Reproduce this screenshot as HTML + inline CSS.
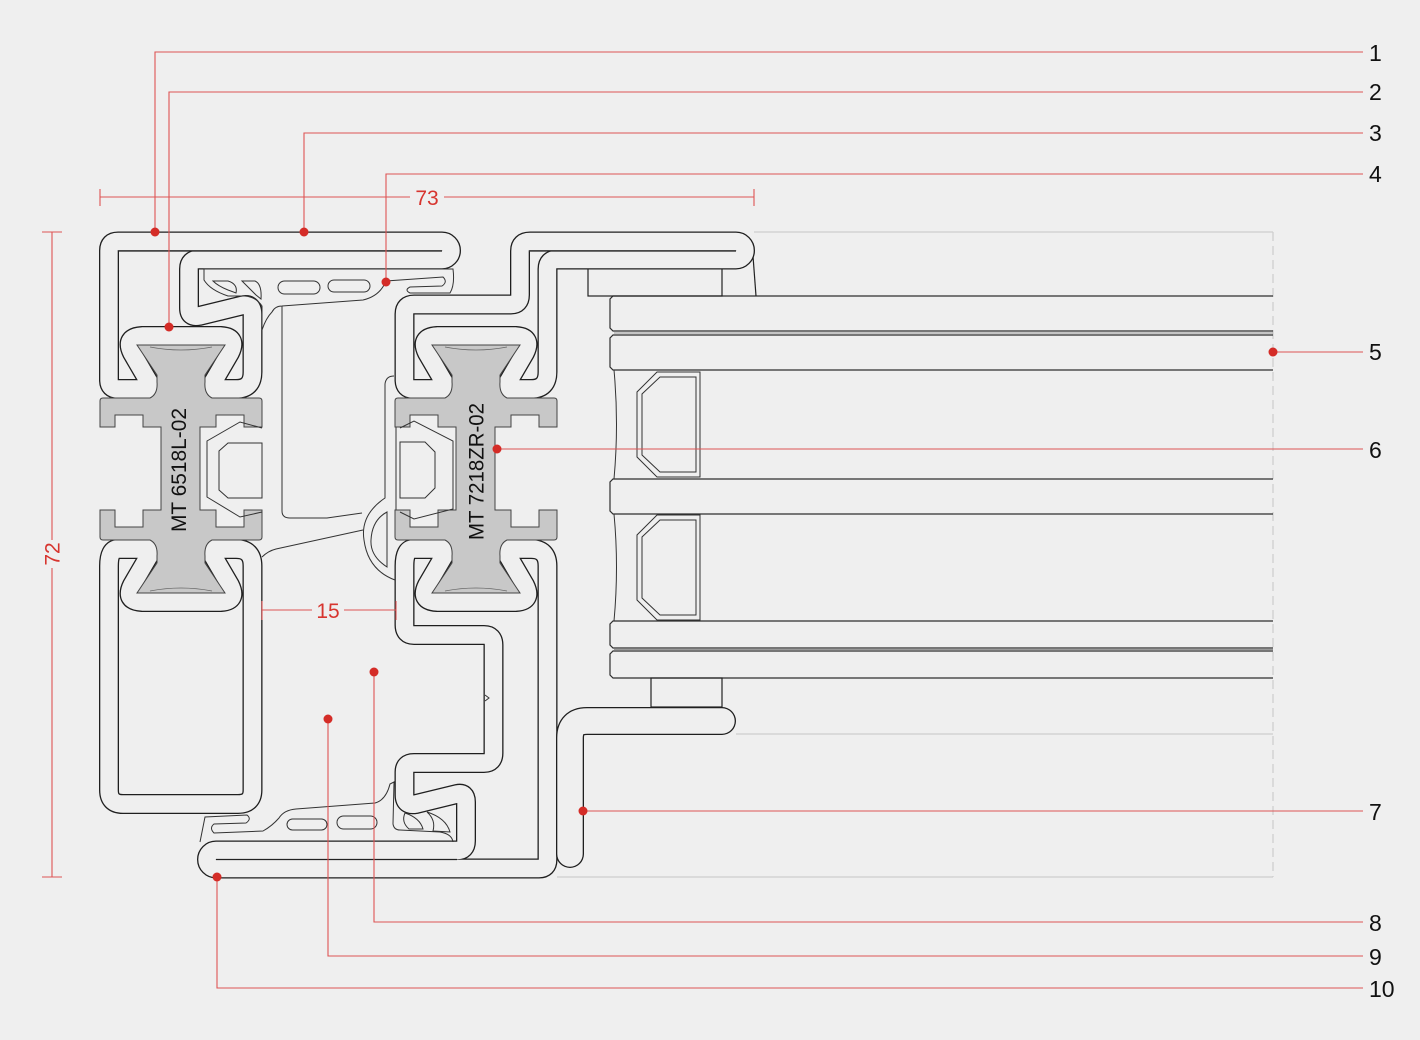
<!DOCTYPE html>
<html>
<head>
<meta charset="utf-8">
<style>
html,body{margin:0;padding:0;background:#efefef;}
svg{display:block;}
.tb{fill:none;stroke:#1f1f1f;stroke-width:20;stroke-linejoin:round;stroke-linecap:round;}
.tf{fill:none;stroke:#efefef;stroke-width:17.4;stroke-linejoin:round;stroke-linecap:round;}
.tb7{fill:none;stroke:#1f1f1f;stroke-width:28;stroke-linejoin:round;stroke-linecap:round;}
.tf7{fill:none;stroke:#efefef;stroke-width:25.4;stroke-linejoin:round;stroke-linecap:round;}
.ln{fill:none;stroke:#222;stroke-width:1.2;}
.th{fill:none;stroke:#333;stroke-width:1;}
.ld{fill:none;stroke:#de5454;stroke-width:1.1;}
.dot{fill:#d42c27;}
.lab{font-family:"Liberation Sans",Arial,sans-serif;font-size:23px;fill:#111;}
.dim{font-family:"Liberation Sans",Arial,sans-serif;font-size:21px;fill:#d7352f;}
.gt{font-family:"Liberation Sans",Arial,sans-serif;font-size:21px;fill:#111;}
</style>
</head>
<body>
<svg width="1420" height="1040" viewBox="0 0 1420 1040" xmlns="http://www.w3.org/2000/svg">
<defs>
<path id="LU" d="M 252.5,372 L 252.5,314 Q 252.5,303 242,305.5 L 199,316 Q 189,318 189,308 L 189,269 Q 189,259.5 198.5,259.5 L 442,259.5 A 9,9 0 0 0 442,241.5 L 118,241.5 Q 109,241.5 109,250.5 L 109,380 Q 109,389 118,389 L 153,389 L 132,353 Q 124,337 142,336 L 221,336 Q 238,337 230,353 L 209,389 L 236,389 Q 252.5,389 252.5,372 Z"/>
<path id="LL" d="M 118,549 L 153,549 L 132,585 Q 124,601 142,602 L 221,602 Q 238,601 230,585 L 209,549 L 236,549 Q 252.5,549 252.5,566 L 252.5,790 Q 252.5,804 238,804 L 123,804 Q 109,804 109,790 L 109,566 Q 109,549 118,549 Z"/>
<path id="RU" d="M 404.5,380 L 404.5,314 Q 404.5,304.5 414,304.5 L 511,304.5 Q 520,304.5 520,295 L 520,251 Q 520,241.5 530,241.5 L 736,241.5 A 9,9 0 0 1 736,259.5 L 557,259.5 Q 547.5,259.5 547.5,269 L 547.5,372 Q 547.5,389 531,389 L 504,389 L 525,353 Q 533,337 516,336 L 437,336 Q 419,337 427,353 L 448,389 L 413,389 Q 404.5,389 404.5,380 Z"/>
<path id="RL" d="M 413,549 L 448,549 L 427,585 Q 419,601 437,602 L 516,602 Q 533,601 525,585 L 504,549 L 531,549 Q 547.5,549 547.5,566 L 547.5,860 Q 547.5,868.5 539,868.5 L 216,868.5 A 9,9 0 0 1 216,850.5 L 457,850.5 Q 466,850.5 466,841 L 466,802 Q 466,792 457,794 L 416,804 Q 404.5,806 404.5,795 L 404.5,772 Q 404.5,763 414,763 L 484,763 Q 493.5,763 493.5,753 L 493.5,645 Q 493.5,635 484,635 L 414,635 Q 404.5,635 404.5,625 L 404.5,566 Q 404.5,549 413,549 Z"/>
<path id="T7" d="M 570,854 L 570,738 Q 570,721 587,721 L 722,721"/>
<path id="GB" d="M 100,401 Q 100,398 103,398 L 150,398 Q 158,394 157,382 L 157,375 L 137,345 L 225,345 L 205,375 L 205,382 Q 204,394 212,398 L 259,398 Q 262,398 262,401 L 262,427 L 244,427 L 244,415 L 216,415 L 216,427 L 200,427 L 200,510 L 216,510 L 216,527 L 244,527 L 244,510 L 262,510 L 262,537 Q 262,540 259,540 L 212,540 Q 204,544 205,556 L 205,563 L 225,593 L 137,593 L 157,563 L 157,556 Q 158,544 150,540 L 103,540 Q 100,540 100,537 L 100,510 L 115,510 L 115,527 L 143,527 L 143,510 L 161,510 L 161,427 L 143,427 L 143,415 L 115,415 L 115,427 L 100,427 Z"/>
</defs>

<rect width="1420" height="1040" fill="#efefef"/>

<!-- light grey boundary lines -->
<g fill="none" stroke="#cdcdcd" stroke-width="1.2">
<path d="M 754,232 L 1273,232"/>
<path d="M 736,734 L 1273,734"/>
<path d="M 557,877 L 1273,877"/>
<path d="M 1273,232 L 1273,877" stroke-dasharray="9 5"/>
</g>

<!-- glass panes -->
<g fill="none" stroke="#2e2e2e" stroke-width="1.2">
<path d="M 1273,296 L 613,296 L 610,299 L 610,328 L 613,331 L 1273,331"/>
<path d="M 1273,335 L 613,335 L 610,338 L 610,367 L 613,370 L 1273,370"/>
<path d="M 1273,479 L 613,479 L 610,482 L 610,511 L 613,514 L 1273,514"/>
<path d="M 1273,621 L 613,621 L 610,624 L 610,645 L 613,648 L 1273,648"/>
<path d="M 1273,651 L 613,651 L 610,654 L 610,675 L 613,678 L 1273,678"/>
</g>
<g fill="none" stroke="#999" stroke-width="1">
<path d="M 614,333 L 1273,333"/>
<path d="M 614,649.5 L 1273,649.5"/>
</g>
<g fill="none" stroke="#333" stroke-width="1">
<path d="M 614,370 Q 619,424 614,479"/>
<path d="M 614,514 Q 619,567 614,621"/>
<path d="M 657,372 L 700,372 L 700,477 L 657,477 L 637,457 L 637,392 Z"/>
<path d="M 660,377 L 696,377 L 696,472 L 660,472 L 642,455 L 642,394 Z"/>
<path d="M 657,515 L 700,515 L 700,620 L 657,620 L 637,600 L 637,535 Z"/>
<path d="M 660,520 L 696,520 L 696,615 L 660,615 L 642,598 L 642,537 Z"/>
</g>

<!-- glazing bead & setting block -->
<rect x="588" y="268" width="134" height="28" class="ln"/>
<rect x="651" y="678" width="71" height="29" class="ln"/>
<path d="M 753,256 L 756,296" class="ln"/>

<!-- tubes -->
<use href="#LU" class="tb"/><use href="#LU" class="tf"/>
<use href="#LL" class="tb"/><use href="#LL" class="tf"/>
<use href="#RU" class="tb"/><use href="#RU" class="tf"/>
<use href="#RL" class="tb"/><use href="#RL" class="tf"/>
<use href="#T7" class="tb7"/><use href="#T7" class="tf7"/>

<!-- seams -->
<g class="ln">
<path d="M 118,251 L 442,251"/>
<path d="M 529,251 L 736,251"/>
<path d="M 216,859.5 L 457,859.5"/>
</g>

<!-- top seal (item 4) -->
<g class="th">
<path d="M 204,269 L 453,269 Q 455,285 450,293 L 410,293 Q 404,290 410,287 L 442,286 Q 448,282 443,277 L 386,281 Q 380,296 363,300 L 282,306 Q 275,306 272,312 Q 266,318 262,330 L 262,306 Q 256,297 245,296 L 228,296 Q 210,290 204,280 Z"/>
<rect x="278" y="281" width="42" height="13" rx="6.5"/>
<rect x="328" y="280" width="42" height="12" rx="6"/>
<path d="M 213,281 L 228,281 Q 238,284 236,293 L 228,290 Q 218,286 213,281 Z"/>
<path d="M 242,281 L 255,281 Q 262,284 261,299 L 256,295 Q 250,289 242,281 Z"/>
<!-- polyamide / inner lines -->
<path d="M 282,306 L 282,511 Q 282,518 290,518 L 327,518 L 362,513"/>
<path d="M 262,557 Q 268,551 276,549 L 363,530"/>
<!-- bulb gasket -->
<path d="M 394,376 Q 386,376 385,384 L 385,498 Q 360,515 364,540 Q 368,570 395,580"/>
<path d="M 387,512 L 387,567 Q 370,556 371,540 Q 372,520 387,512 Z"/>
<path d="M 396,427 L 396,510"/>
</g>

<!-- bottom seal (items 8/9 area) -->
<g class="th">
<path d="M 200,842 L 205,817 L 247,815 Q 252,819 246,823 L 214,824 Q 209,828 214,833 L 263,831 Q 272,826 279,818 Q 284,810 296,809 L 375,803 Q 386,800 390,784 L 394,782 L 393,824 Q 394,830 400,830 L 440,832 Q 452,834 453,842"/>
<rect x="287" y="819" width="40" height="11" rx="5.5"/>
<rect x="337" y="816" width="40" height="13" rx="6.5"/>
<path d="M 405,813 Q 420,818 423,829 L 409,829 Q 401,822 405,813 Z"/>
<path d="M 427,812 Q 446,818 450,832 L 433,831 Q 436,820 427,812 Z"/>
<path d="M 485,695 L 489,698 L 485,701"/>
</g>

<!-- thermal break bars -->
<g fill="#c8c8c8" stroke="#444" stroke-width="1">
<use href="#GB"/>
<use href="#GB" transform="translate(295,0)"/>
</g>
<g fill="none" stroke="#666" stroke-width="0.8">
<path d="M 150,347 Q 181,353 212,347"/>
<path d="M 150,591 Q 181,585 212,591"/>
<path d="M 445,347 Q 476,353 507,347"/>
<path d="M 445,591 Q 476,585 507,591"/>
</g>
<text class="gt" transform="translate(186,470) rotate(-90)" text-anchor="middle" textLength="124" lengthAdjust="spacingAndGlyphs">MT 6518L-02</text>
<text class="gt" transform="translate(483.5,471.5) rotate(-90)" text-anchor="middle" textLength="137" lengthAdjust="spacingAndGlyphs">MT 7218ZR-02</text>

<!-- inserts -->
<g class="th" fill="#efefef">
<path d="M 262,428 L 240,422 L 207,441 L 207,497 L 240,517 L 262,512" fill="none"/>
<path d="M 262,443 L 228,443 L 219,451 L 219,490 L 228,498 L 262,498 Z" fill="none"/>
<path d="M 400,428 L 414,421 L 453,441 L 453,509 L 414,519 L 400,512" fill="none"/>
<path d="M 400,442 L 425,442 L 435,452 L 435,488 L 425,498 L 400,498 Z" fill="none"/>
</g>

<!-- dimensions -->
<g class="ld">
<path d="M 100,197 L 410,197 M 444,197 L 754,197"/>
<path d="M 100,189 L 100,206 M 754,189 L 754,206"/>
<path d="M 52,232 L 52,540 M 52,568 L 52,877"/>
<path d="M 42,232 L 62,232 M 42,877 L 62,877"/>
<path d="M 262,610 L 312,610 M 344,610 L 396,610"/>
<path d="M 262,601 L 262,620 M 396,601 L 396,620"/>
</g>
<text class="dim" x="427" y="205" text-anchor="middle">73</text>
<text class="dim" transform="translate(59.5,554) rotate(-90)" text-anchor="middle">72</text>
<text class="dim" x="328" y="618" text-anchor="middle">15</text>

<!-- leaders -->
<g class="ld">
<path d="M 155,232 L 155,52 L 1363,52"/>
<path d="M 169,327 L 169,92 L 1363,92"/>
<path d="M 304,232 L 304,133 L 1363,133"/>
<path d="M 386,282 L 386,174 L 1363,174"/>
<path d="M 1273,352 L 1363,352"/>
<path d="M 497,449 L 1363,449"/>
<path d="M 583,811 L 1363,811"/>
<path d="M 374,672 L 374,922 L 1363,922"/>
<path d="M 328,719 L 328,956 L 1363,956"/>
<path d="M 217,877 L 217,988 L 1363,988"/>
</g>
<g class="dot">
<circle cx="155" cy="232" r="4.5"/>
<circle cx="169" cy="327" r="4.5"/>
<circle cx="304" cy="232" r="4.5"/>
<circle cx="386" cy="282" r="4.5"/>
<circle cx="1273" cy="352" r="4.5"/>
<circle cx="497" cy="449" r="4.5"/>
<circle cx="583" cy="811" r="4.5"/>
<circle cx="374" cy="672" r="4.5"/>
<circle cx="328" cy="719" r="4.5"/>
<circle cx="217" cy="877" r="4.5"/>
</g>

<!-- labels -->
<text class="lab" x="1369" y="61">1</text>
<text class="lab" x="1369" y="100">2</text>
<text class="lab" x="1369" y="141">3</text>
<text class="lab" x="1369" y="182">4</text>
<text class="lab" x="1369" y="360">5</text>
<text class="lab" x="1369" y="458">6</text>
<text class="lab" x="1369" y="820">7</text>
<text class="lab" x="1369" y="931">8</text>
<text class="lab" x="1369" y="965">9</text>
<text class="lab" x="1369" y="997">10</text>
</svg>
</body>
</html>
